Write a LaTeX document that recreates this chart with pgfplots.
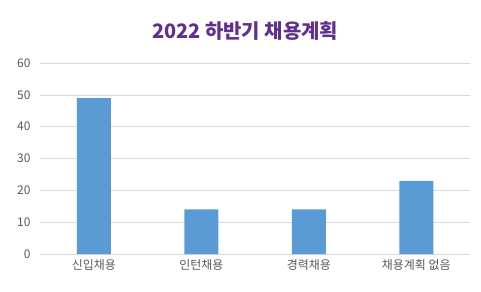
\documentclass[border=0pt]{standalone}
\usepackage{pgfplots}
\pgfplotsset{compat=1.18}
\usepackage{fontspec}
\setmainfont{Noto Sans CJK KR}
\definecolor{barblue}{HTML}{5B9BD5}
\definecolor{titlepurple}{HTML}{632F8F}
\definecolor{gridgray}{HTML}{D9D9D9}
\definecolor{ticktext}{HTML}{595959}
\begin{document}
\begin{tikzpicture}[x=1bp,y=1bp]
\useasboundingbox (0,0) rectangle (481,291);
\node[font=\bfseries\fontsize{20}{22}\selectfont, text=titlepurple] at (245,260) {2022 하반기 채용계획};
\begin{axis}[
  at={(40bp,37bp)}, anchor=south west,
  scale only axis, width=430bp, height=191bp,
  xmin=-0.5, xmax=3.5, ymin=0, ymax=60,
  ytick={0,10,...,60},
  xtick=data,
  xticklabels={신입채용,인턴채용,경력채용,채용계획 없음},
  axis line style={draw=none},
  major tick length=0pt,
  ymajorgrids, grid style={gridgray, line width=0.6pt},
  tick label style={font=\fontsize{12}{14}\selectfont, text=ticktext},
  /pgf/number format/assume math mode=true,
  yticklabel style={xshift=-6bp},
  xticklabel style={yshift=-2bp},
  ybar, bar width=34bp,
]
\addplot[fill=barblue, draw=none] coordinates {(0,49) (1,14) (2,14) (3,23)};
\end{axis}
\end{tikzpicture}
\end{document}
